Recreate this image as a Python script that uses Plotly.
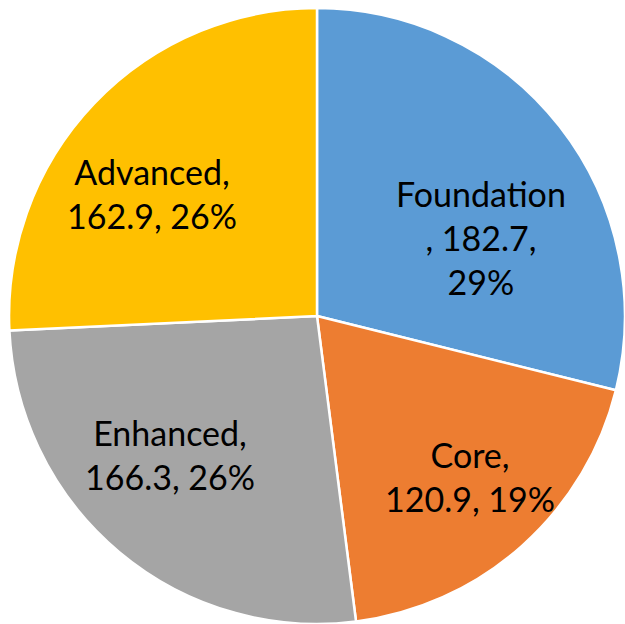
import plotly.graph_objects as go

# Segment names and their values
segments = ["Foundation", "Core", "Enhanced", "Advanced"]
values = [182.7, 120.9, 166.3, 162.9]
colors = ["#5B9BD5", "#ED7D31", "#A5A5A5", "#FFC000"]

total = sum(values)
pct = [round(v / total * 100) for v in values]

# Data labels: "name, value, percent" wrapped over lines
labels_text = [
    f"{segments[0]}<br>, {values[0]},<br>{pct[0]}%",
    f"{segments[1]},<br>{values[1]}, {pct[1]}%",
    f"{segments[2]},<br>{values[2]}, {pct[2]}%",
    f"{segments[3]},<br>{values[3]}, {pct[3]}%",
]

W, H = 625, 624
# Label block centres in pixels (x from left, y from top)
label_pos_px = [(481, 237), (470, 476), (170, 454), (152, 193)]

fig = go.Figure(
    go.Pie(
        labels=segments,
        values=values,
        textinfo="none",
        sort=False,
        direction="clockwise",
        rotation=0,
        marker=dict(colors=colors, line=dict(color="white", width=2.5)),
        domain=dict(x=[0.0144, 1.0], y=[0.0, 0.987]),
        showlegend=False,
        hoverinfo="label+value+percent",
    )
)

for txt, (px, py) in zip(labels_text, label_pos_px):
    fig.add_annotation(
        x=px / W,
        y=1 - py / H,
        xref="paper",
        yref="paper",
        text=txt,
        showarrow=False,
        xanchor="center",
        yanchor="middle",
        align="center",
        font=dict(family="Lato", size=34, color="black"),
    )

fig.update_layout(
    width=W,
    height=H,
    margin=dict(l=0, r=0, t=0, b=0),
    paper_bgcolor="white",
    plot_bgcolor="white",
)

fig.write_html("out.html")
